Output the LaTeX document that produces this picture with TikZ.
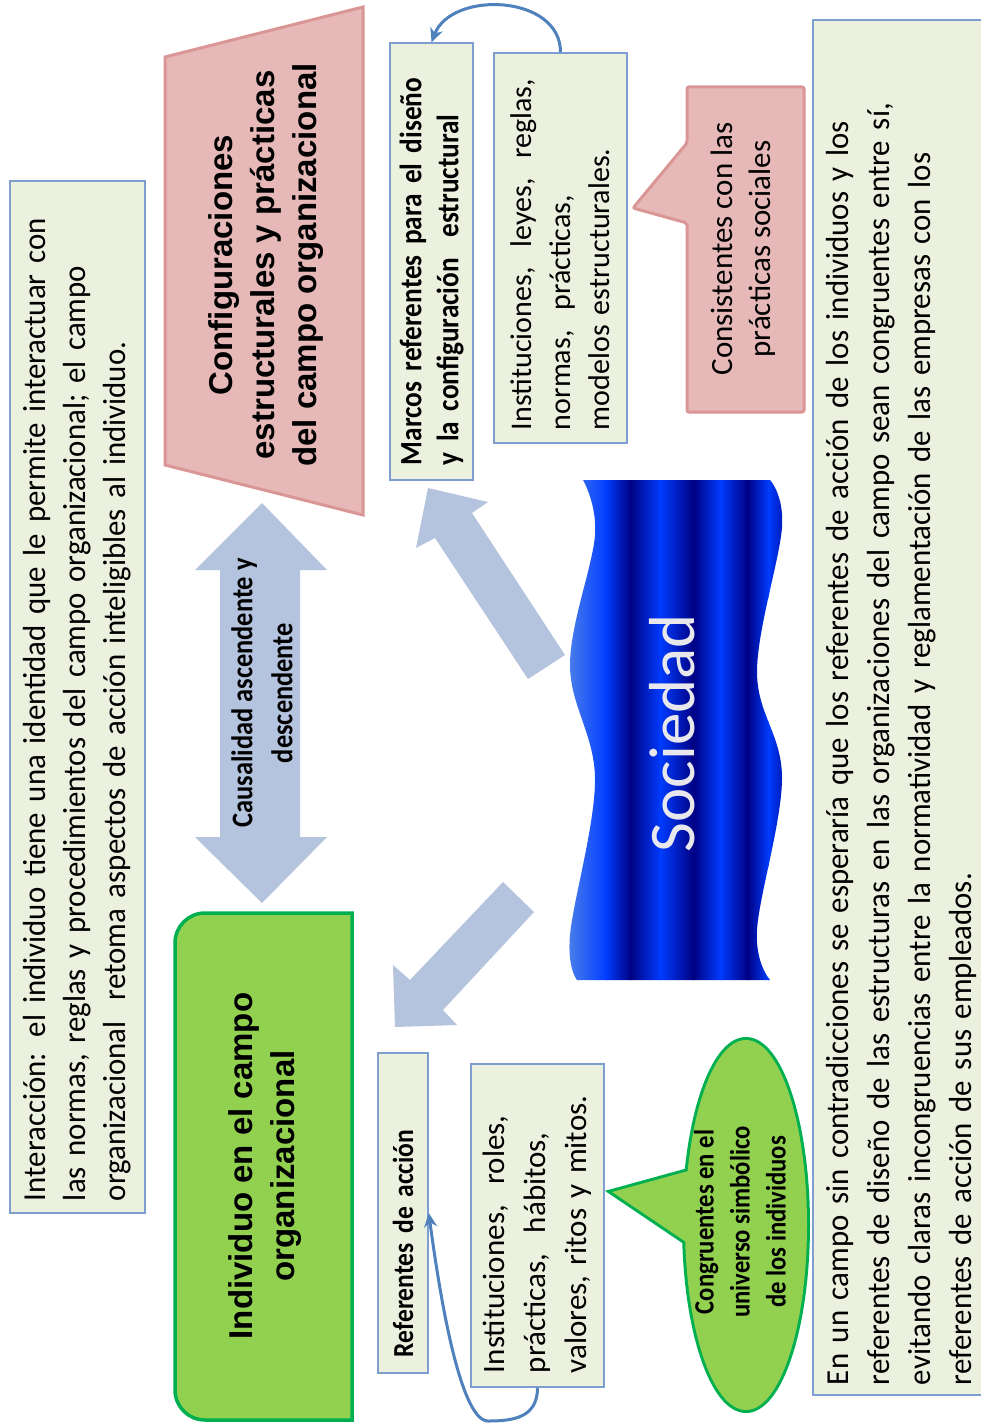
\documentclass[tikz,border=0pt]{standalone}
\usepackage{fontspec}
\usetikzlibrary{arrows.meta}
\setmainfont{Carlito}
\newfontfamily\condfont[FakeStretch=0.88]{Carlito}
\newfontfamily\narrowfont[FakeStretch=0.965]{Carlito}
\newfontfamily\headfont{Liberation Sans}

\definecolor{boxfill}{RGB}{235,241,222}
\definecolor{boxline}{RGB}{125,158,206}
\definecolor{pinkfill}{RGB}{230,185,184}
\definecolor{pinkline}{RGB}{217,150,148}
\definecolor{greenfill}{RGB}{146,208,80}
\definecolor{greenline}{RGB}{0,176,80}
\definecolor{arrowfill}{RGB}{180,196,222}
\definecolor{curveblue}{RGB}{79,129,189}
\definecolor{wavelight}{RGB}{90,140,230}
\definecolor{wavebright}{RGB}{0,60,255}
\definecolor{wavedark}{RGB}{0,0,130}
\definecolor{socgray}{RGB}{232,232,236}

\tikzset{
  textbox/.style={draw=boxline, line width=1.5pt, fill=boxfill, rotate=90,
    align=left, inner ysep=0pt, text=black},
  vlabel/.style={rotate=90, align=center, inner sep=0pt, text=black},
  bodytext/.style 2 args={font={\fontsize{#1}{#2}\selectfont}},
  longtext/.style 2 args={font={\narrowfont\fontsize{#1}{#2}\selectfont}},
  condtext/.style 2 args={font={\condfont\bfseries\fontsize{#1}{#2}\selectfont}},
  headtext/.style={font={\headfont\bfseries\fontsize{33}{42}\selectfont}},
  pinkshape/.style={fill=pinkfill, draw=pinkline, line width=3pt},
  greenshape/.style={fill=greenfill, draw=greenline, line width=3.5pt},
  blockarrow/.style={fill=arrowfill},
  curvearrow/.style={draw=curveblue, line width=3pt,
    -{Stealth[length=14pt,width=13pt]}},
}

\begin{document}
\begin{tikzpicture}[x=1pt, y=-1pt]
\useasboundingbox (0,0) rectangle (981,1423);
\fill[white] (0,0) rectangle (981,1423);
\clip (0,0) rectangle (981,1423);

% ---- block arrows ----
\fill[blockarrow] (220,570) -- (195,570) -- (262,503) -- (327,570) -- (300,570)
  -- (300,837) -- (327,837) -- (262,903) -- (195,837) -- (220,837) -- cycle;
\fill[blockarrow] (565,655) -- (472,513) -- (488,502) -- (428,488) -- (416,548)
  -- (435,538) -- (528,679) -- cycle;
\fill[blockarrow] (503,882) -- (410,980) -- (393,965) -- (395,1027) -- (457,1025)
  -- (443,1010) -- (534,912) -- cycle;

% ---- Sociedad: striped wave banner ----
\begin{scope}
  \clip (583,480) -- (770,480)
    -- plot[smooth, tension=0.6] coordinates {(770,480) (782,527) (757,672) (782,778) (757,930) (770,980)}
    -- (577,980)
    -- plot[smooth, tension=0.6] coordinates {(577,980) (570,935) (595,780) (570,665) (595,535) (583,480)}
    -- cycle;
  \shade[left color=wavelight, right color=wavebright] (560,470) rectangle (607,990);
  \shade[left color=wavebright, right color=wavedark] (606,470) rectangle (631,990);
  \shade[left color=wavedark, right color=wavebright] (630,470) rectangle (661,990);
  \shade[left color=wavebright, right color=wavedark] (660,470) rectangle (694,990);
  \shade[left color=wavedark, right color=wavebright] (693,470) rectangle (721,990);
  \shade[left color=wavebright, right color=wavedark] (720,470) rectangle (748,990);
  \shade[left color=wavedark, right color=wavebright] (747,470) rectangle (769,990);
  \shade[left color=wavebright, right color=wavedark] (768,470) rectangle (795,990);
\end{scope}
\node[vlabel, text=socgray, font={\fontsize{65}{65}\selectfont}] (soc) at (672,733) {Sociedad};

% ---- explanatory boxes ----
\node[textbox, longtext={32}{40}, text width=1008pt, inner xsep=12pt, minimum height=135pt]
  (interac) at (77.5,697)
  {Interacción: el individuo tiene una identidad que le permite interactuar con\\
   las normas, reglas y procedimientos del campo organizacional; el campo\\
   organizacional\ \ retoma aspectos de acción inteligibles al individuo.};

\node[textbox, longtext={32}{41}, text width=1355pt, inner xsep=10pt, minimum height=176pt]
  (contrad) at (901,707.5)
  {En un campo sin contradicciones se esperaría que los referentes de acción de los individuos y los\\
   referentes de diseño de las estructuras en las organizaciones del campo sean congruentes entre sí,\\
   evitando claras incongruencias entre la normatividad y reglamentación de las empresas con los\\
   referentes de acción de sus empleados.};

\node[textbox, condtext={31}{37}, text width=407pt, inner xsep=15pt, minimum height=83pt]
  (marcos) at (431.5,261.5)
  {Marcos referentes para el diseño\\ y la configuración\ \ estructural};

\node[textbox, bodytext={30}{39}, text width=364pt, inner xsep=13pt, minimum height=133pt]
  (instA) at (560.5,248)
  {Instituciones,\ \ leyes,\ \ reglas,\\ normas,\ \ prácticas,\\ modelos estructurales.};

\node[textbox, condtext={29}{34}, text width=288pt, inner xsep=16pt, minimum height=50pt]
  (refac) at (403,1213)
  {Referentes de acción};

\node[textbox, bodytext={31}{41}, text width=295pt, inner xsep=14pt, minimum height=133pt]
  (instB) at (537.5,1225.5)
  {Instituciones,\ \ roles,\\ prácticas,\ \ hábitos,\\ valores,\ ritos y mitos.};

% ---- structural configurations (pink trapezoid) ----
\filldraw[pinkshape] (165,57) -- (363,7) -- (363,515) -- (165,465) -- cycle;
\node[vlabel, headtext] (config) at (266,265)
  {Configuraciones\\ estructurales y prácticas\\ del campo organizacional};

% ---- individual (green box, rounded on one side) ----
\filldraw[greenshape] (352,913) -- (205,913) .. controls (188.4,913) and (175,926.4) .. (175,943)
  -- (175,1390) .. controls (175,1406.6) and (188.4,1420) .. (205,1420) -- (352,1420) -- cycle;
\node[vlabel, headtext] (indiv) at (265,1166)
  {Individuo en el campo\\ organizacional};

% ---- causality label on the double arrow ----
\node[vlabel, condtext={30}{40}] (causal) at (262,693)
  {Causalidad ascendente y\\ descendente};

% ---- pink callout ----
\filldraw[pinkshape, rounded corners=2pt] (687,87) -- (804,87) -- (804,412) -- (687,412)
  -- (687,223) -- (633,208) -- (687,143) -- cycle;
\node[vlabel, bodytext={31}{38}] (consist) at (743,249)
  {Consistentes con las\\ prácticas sociales};

% ---- green ellipse callout (outline first, fill on top) ----
\draw[greenline, line width=6pt] (746,1225) ellipse [x radius=61pt, y radius=185pt];
\draw[greenline, line width=6pt] (612,1192) -- (692,1170) -- (692,1246) -- cycle;
\fill[greenfill] (746,1225) ellipse [x radius=61pt, y radius=185pt];
\fill[greenfill] (612,1192) -- (692,1170) -- (692,1246) -- cycle;
\node[vlabel, condtext={28}{36}] (congru) at (740,1222)
  {Congruentes en el\\ universo simbólico\\ de los individuos};

% ---- curved connectors ----
\coordinate (loopB) at (488,1421);
\draw[curvearrow] (instA.east) .. controls +(0,-58) and +(20,-52) .. (marcos.east);
\draw[curvearrow] (instB.west) .. controls +(0,30) and +(25,0) .. (loopB)
  .. controls +(-30,0) and +(8,60) .. (refac.south);
\end{tikzpicture}
\end{document}
